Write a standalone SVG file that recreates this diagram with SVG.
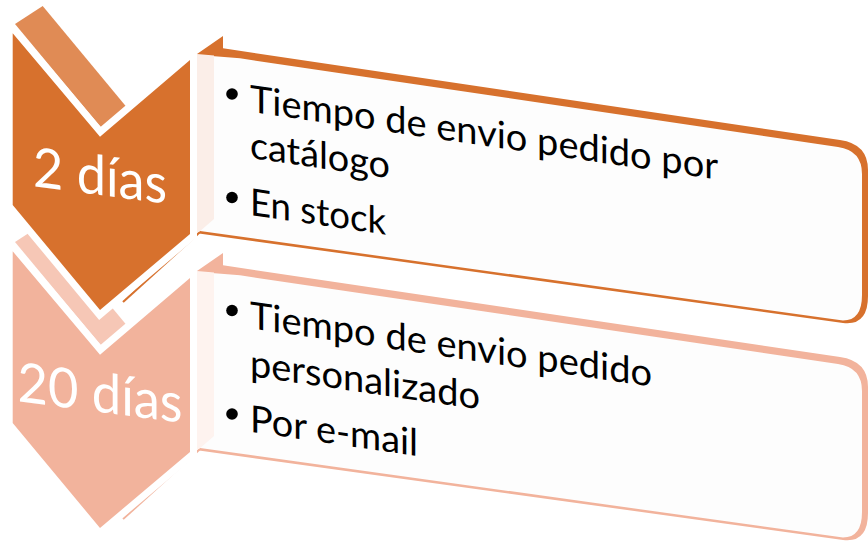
<svg xmlns="http://www.w3.org/2000/svg" width="868" height="543" viewBox="0 0 868 543">
<style>
.lbl{font-family:Lato,"Open Sans","Liberation Sans",sans-serif;font-size:55px;fill:#fff;text-anchor:middle}
.txt{font-family:Lato,"Open Sans","Liberation Sans",sans-serif;font-size:37.5px;fill:#000}
.halo{stroke:#fff;stroke-width:14;stroke-linejoin:miter;paint-order:stroke}
.o{fill:#D7712D}.ob{fill:#E08B55}.s{fill:#F2B39C}.sb{fill:#F6C7B6}
.face{fill:#FDFDFD}
.shardO{stroke:#D7712D;stroke-width:2.2;fill:none}
.shardS{stroke:#F2B39C;stroke-width:2.2;fill:none}
.dot{fill:#000}
</style>
<rect width="868" height="543" fill="#fff"/>

<g id="panel-1">
  <path class="shardO" d="M200,232 L123,302"/>
  <path class="o" d="M197,54 L223,36 L223,48.3 L840,140 Q868,144 868,170 L868,296 Q868,326 843,323 L199,233.5 Z"/>
  <path class="face" d="M199,55 L240,58.3 L838,147 Q862,150.5 862,174 L862,295 Q862,320.5 843,320.5 L200,231 Z"/>
  <path fill="#FBEEE8" d="M197,54 L214,55.5 L214,219 L199,232 L197,232 Z"/>
  <circle class="dot" cx="232" cy="94" r="5.8"/>
  <circle class="dot" cx="232" cy="197.5" r="5.8"/>
  <text class="txt" transform="translate(250,111.7) skewY(8.25)" textLength="468" lengthAdjust="spacingAndGlyphs">Tiempo de envio pedido por</text>
  <text class="txt" transform="translate(250,158) skewY(8.25)" textLength="140" lengthAdjust="spacingAndGlyphs">catálogo</text>
  <text class="txt" transform="translate(250,215) skewY(8.25)" textLength="136" lengthAdjust="spacingAndGlyphs">En stock</text>
</g>

<g id="panel-2">
  <g transform="translate(0,217)">
    <path class="shardS" d="M200,232 L123,302"/>
    <path class="s" d="M197,54 L223,36 L223,48.3 L840,140 Q868,144 868,170 L868,296 Q868,326 843,323 L199,233.5 Z"/>
    <path class="face" d="M199,55 L240,58.3 L838,147 Q862,150.5 862,174 L862,295 Q862,320.5 843,320.5 L200,231 Z"/>
    <path fill="#FEF3EF" d="M197,54 L214,55.5 L214,219 L199,232 L197,232 Z"/>
  </g>
  <circle class="dot" cx="232" cy="310.5" r="5.8"/>
  <circle class="dot" cx="232" cy="414" r="5.8"/>
  <text class="txt" transform="translate(250,328.3) skewY(8.25)" textLength="402" lengthAdjust="spacingAndGlyphs">Tiempo de envio pedido</text>
  <text class="txt" transform="translate(250,376) skewY(8.25)" textLength="230" lengthAdjust="spacingAndGlyphs">personalizado</text>
  <text class="txt" transform="translate(250,431.7) skewY(8.25)" textLength="168" lengthAdjust="spacingAndGlyphs">Por e-mail</text>
</g>

<g id="step-2">
  <polygon class="sb" points="15,242 42.7,224 126.7,325.3 101,345.5"/>
  <path class="s halo" d="M12.7,251.3 L100,354.7 L190,278 L190,452 L100,528 L12.7,423 Z"/>
  <text class="lbl" transform="translate(100,412) skewY(7.5)" textLength="165" lengthAdjust="spacingAndGlyphs">20 días</text>
</g>

<g id="step-1">
  <polygon class="ob" points="15,24 42.7,6 126.7,107.3 101,127.5"/>
  <path class="o halo" d="M12.7,33.3 L100,136.7 L190,60 L190,234 L100,310 L12.7,205 Z"/>
  <text class="lbl" transform="translate(100,195) skewY(7.5)" textLength="134" lengthAdjust="spacingAndGlyphs">2 días</text>
</g>
</svg>
